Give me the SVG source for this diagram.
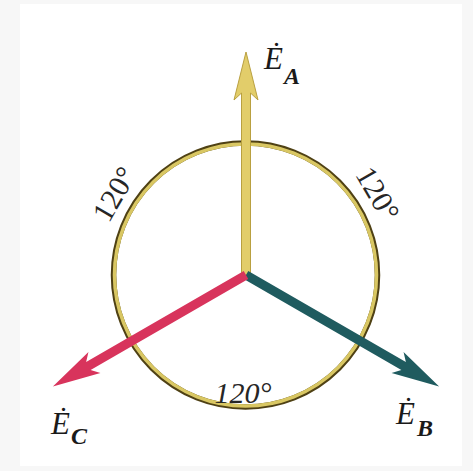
<svg xmlns="http://www.w3.org/2000/svg" width="473" height="471" viewBox="0 0 473 471">
<style>
.lbl{font-family:"Liberation Serif","Times New Roman",serif;font-style:italic;fill:#1a1a1a;font-size:31px}
.sub{font-size:24px;font-weight:bold}
.ang{font-family:"Liberation Serif","Times New Roman",serif;font-size:30px;fill:#262626}
</style>
<defs>
<path id="arrow" d="M0,-4.5 L182,-4.5 L175,-12 L223,0 L175,12 L182,4.5 L0,4.5 Z"/>
</defs>
<rect x="0" y="0" width="473" height="471" fill="#f7f7f7"/>
<rect x="20" y="4" width="442" height="462" fill="#ffffff"/>
<g id="circle">
<circle cx="245.5" cy="275" r="132" fill="none" stroke="#4f4114" stroke-width="5.5"/>
<circle cx="245.5" cy="275" r="131" fill="none" stroke="#d9c763" stroke-width="3.5"/>
</g>
<g id="connectors">
<use href="#arrow" transform="translate(246,275) rotate(-90)" fill="#e2cd6a" stroke="#b9a040" stroke-width="1"/>
<use href="#arrow" transform="translate(246,275) rotate(30)" fill="#1f5b5f"/>
<use href="#arrow" transform="translate(246,275) rotate(150)" fill="#d8345c"/>
</g>
<g id="EA"><text class="lbl" x="264" y="69">Ė<tspan class="sub" x="284" y="84">A</tspan></text></g>
<g id="EB"><text class="lbl" x="396" y="424">Ė<tspan class="sub" x="417" y="436">B</tspan></text></g>
<g id="EC"><text class="lbl" x="51" y="434">Ė<tspan class="sub" x="71" y="444">C</tspan></text></g>
<g id="ang1"><text class="ang" text-anchor="middle" transform="translate(123,199) rotate(-60)">120°</text></g>
<g id="ang2"><text class="ang" text-anchor="middle" transform="translate(369,199) rotate(60)">120°</text></g>
<g id="ang3"><text class="ang" text-anchor="middle" font-style="italic" x="243" y="403">120°</text></g>
</svg>
